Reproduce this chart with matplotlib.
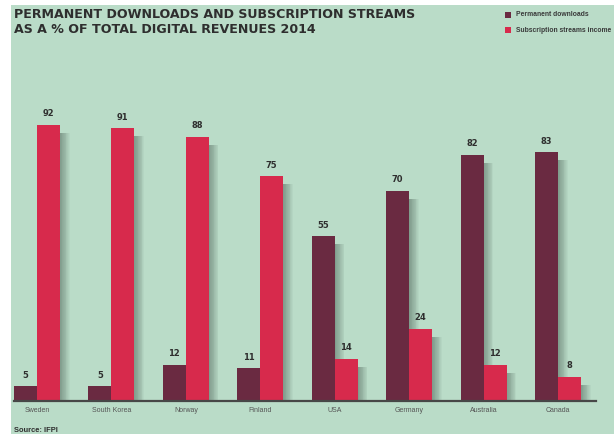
import matplotlib
matplotlib.use("Agg")
import matplotlib.pyplot as plt
from matplotlib.patches import Rectangle

countries = ["Sweden", "South Korea", "Norway", "Finland", "USA", "Germany", "Australia", "Canada"]
permanent_downloads = [5, 5, 12, 11, 55, 70, 82, 83]
subscription_streams = [92, 91, 88, 75, 14, 24, 12, 8]
legend_labels = ["Permanent downloads", "Subscription streams income"]
title = "PERMANENT DOWNLOADS AND SUBSCRIPTION STREAMS\nAS A % OF TOTAL DIGITAL REVENUES 2014"
source = "Source: IFPI"

W, H = 614, 434
BG = "#badcc8"
DARK = "#6a2a41"
RED = "#d72a4c"
TXT = "#2e2e2e"
NARROW = ["Liberation Sans", "DejaVu Sans"]

fig = plt.figure(figsize=(W / 100, H / 100), dpi=100, facecolor="white")
bg = Rectangle((11 / W, 0), 1 - 11 / W, 1 - 5 / H, transform=fig.transFigure,
               facecolor=BG, edgecolor="none", zorder=-10)
fig.patches.append(bg)

ax = fig.add_axes([14 / W, (H - 401) / H, 582 / W, 300 / H])
ax.set_zorder(5)
ax.set_facecolor("none")
bw = 23 / 74.4
ax.set_xlim(-bw, 7 + 38 / 74.4)
ax.set_ylim(0, 100)
for s in ax.spines.values():
    s.set_visible(False)
ax.set_xticks([])
ax.set_yticks([])

px_x = 1 / 74.4
px_y = 1 / 3.0

def shadow(x0, h):
    for k in range(1, 13):
        ax.add_patch(Rectangle((x0 + k * px_x * 0.8, 0), bw, max(h - 8 * px_y, 0),
                               facecolor="#3c4d45", edgecolor="none", alpha=0.045, zorder=1))

for i, (d, r) in enumerate(zip(permanent_downloads, subscription_streams)):
    shadow(i - bw, d)
    shadow(i, r)

xs = list(range(len(countries)))
ax.bar([x - bw / 2 for x in xs], permanent_downloads, width=bw, color=DARK, zorder=3,
       edgecolor="none")
ax.bar([x + bw / 2 for x in xs], subscription_streams, width=bw, color=RED, zorder=3,
       edgecolor="none")

for x, d, r, c in zip(xs, permanent_downloads, subscription_streams, countries):
    ax.text(x - bw / 2, d + 11 * px_y, str(d), ha="center", va="center", fontsize=6,
            fontweight="bold", color=TXT)
    ax.text(x + bw / 2, r + 11 * px_y, str(r), ha="center", va="center", fontsize=6,
            fontweight="bold", color=TXT)
    ax.text(x, -10 * px_y, c, ha="center", va="center", fontsize=5,
            color="#555555", clip_on=False, family=NARROW)

ax.axhline(0, color="#474747", lw=1.6, zorder=4, clip_on=False)

fig.text(14 / W, 1 - 22 / H, title, ha="left", va="center", fontsize=9.1,
         fontweight="bold", color=TXT, linespacing=1.25)

for j, (lab, col) in enumerate(zip(legend_labels, [DARK, RED])):
    yc = 1 - (15 + 15 * j) / H
    fig.patches.append(Rectangle((505 / W, yc - 3 / H), 6 / W, 6 / H, transform=fig.transFigure,
                                 facecolor=col, edgecolor="none"))
    fig.text(516 / W, yc, lab, ha="left", va="center", fontsize=4.85, fontweight="bold",
             color="#3a3a3a", family=NARROW)

fig.text(14 / W, 1 - 430 / H, source, ha="left", va="center", fontsize=5.4,
         fontweight="bold", color=TXT, family=NARROW)

fig.savefig("out.png", dpi=100, facecolor="white")
